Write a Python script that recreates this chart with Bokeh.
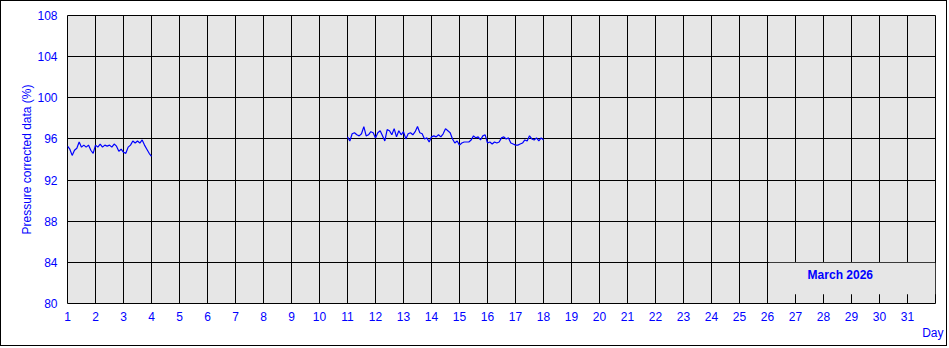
from bokeh.plotting import figure
from bokeh.models import FixedTicker, Label, Range1d, Title
from bokeh.embed import file_html
from bokeh.resources import INLINE
import numpy as np

# ---- data ----
samples_per_day = 12  # two-hourly readings
seg1_start_day = 1.0
seg1_values = [95.3, 95.0, 94.4, 94.9, 95.1, 95.7, 95.2, 95.4, 95.2, 95.4, 94.9, 94.6,
               95.4, 95.2, 95.5, 95.2, 95.4, 95.3, 95.4, 95.2, 95.5, 95.3, 94.8, 95.0,
               94.7, 94.6, 95.2, 95.4, 95.8, 95.6, 95.8, 95.6, 95.9, 95.4, 95.0, 94.6,
               94.3]
seg2_start_day = 11.0
seg2_values = [96.2, 95.8, 96.5, 96.6, 96.4, 96.3, 96.5, 97.2, 96.3, 96.4, 96.7, 96.6,
               96.1, 96.6, 96.8, 96.3, 95.8, 96.9, 96.8, 96.4, 97.0, 96.2, 96.8, 96.4,
               96.7, 96.0, 96.5, 96.6, 96.4, 96.7, 97.2, 96.6, 96.5, 96.0, 96.1, 95.7,
               96.2, 96.3, 96.2, 96.4, 96.2, 96.5, 97.0, 96.8, 96.6, 96.0, 95.6, 95.8,
               95.4, 95.6, 95.7, 95.7, 95.7, 95.9, 96.3, 96.1, 96.2, 95.9, 96.3, 96.4,
               95.6, 95.7, 95.5, 95.7, 95.6, 95.7, 96.1, 96.2, 96.0, 96.1, 95.6, 95.5,
               95.4, 95.4, 95.5, 95.6, 95.9, 95.8, 96.3, 96.0, 95.9, 96.1, 95.8, 96.1,
               95.9]
day_ticks = list(range(1, 32))
y_ticks = [80, 84, 88, 92, 96, 100, 104, 108]
month_label = "March 2026"
y_title = "Pressure corrected data (%)"
x_title = "Day"

seg1_days = seg1_start_day + np.arange(len(seg1_values)) / samples_per_day
seg2_days = seg2_start_day + np.arange(len(seg2_values)) / samples_per_day

BLUE = "#0000FF"
FONT = "Liberation Sans"

p = figure(width=947, height=346, output_backend="svg", toolbar_location=None,
           x_range=Range1d(1, 32), y_range=Range1d(80, 108))
p.styles = {"border": "1px solid black"}
p.min_border_left = 66
p.min_border_right = 13
p.min_border_top = 14
p.min_border_bottom = 44
p.background_fill_color = "#E6E6E6"
p.border_fill_color = "white"
p.outline_line_color = "black"
p.outline_line_width = 1

for ax in (p.xaxis, p.yaxis):
    ax.axis_line_color = None
    ax.major_tick_line_color = None
    ax.minor_tick_line_color = None
    ax.major_tick_out = 0
    ax.major_tick_in = 0
    ax.major_label_text_color = BLUE
    ax.major_label_text_font = FONT
    ax.major_label_text_font_size = "12px"

p.xaxis.ticker = FixedTicker(ticks=day_ticks)
p.yaxis.ticker = FixedTicker(ticks=y_ticks)
p.xaxis.major_label_standoff = 8
p.yaxis.major_label_standoff = 10
p.yaxis.axis_label = y_title
p.yaxis.axis_label_text_color = BLUE
p.yaxis.axis_label_text_font = FONT
p.yaxis.axis_label_text_font_size = "12px"
p.yaxis.axis_label_text_font_style = "normal"
p.yaxis.axis_label_standoff = 0

p.xgrid.ticker = FixedTicker(ticks=day_ticks)
p.ygrid.ticker = FixedTicker(ticks=y_ticks)
for g in (p.xgrid, p.ygrid):
    g.grid_line_color = "black"
    g.grid_line_width = 1
    g.grid_line_alpha = 1.0

# label box covering grid
p.quad(left=26.04, right=32, bottom=80.9, top=83.95, fill_color="#E6E6E6", line_color=None)

p.line(seg1_days, seg1_values, line_color=BLUE, line_width=1.2)
p.line(seg2_days, seg2_values, line_color=BLUE, line_width=1.2)

p.add_layout(Label(x=28.6, y=82.8, text=month_label, text_color=BLUE,
                   text_font=FONT, text_font_size="12px", text_font_style="bold",
                   text_align="center", text_baseline="middle"))

day_title = Title(text=x_title, align="right", offset=-8, standoff=0,
                  text_color=BLUE, text_font=FONT, text_font_size="12px",
                  text_font_style="normal")
p.add_layout(day_title, "below")

open("out.html", "w").write(file_html(p, INLINE))
